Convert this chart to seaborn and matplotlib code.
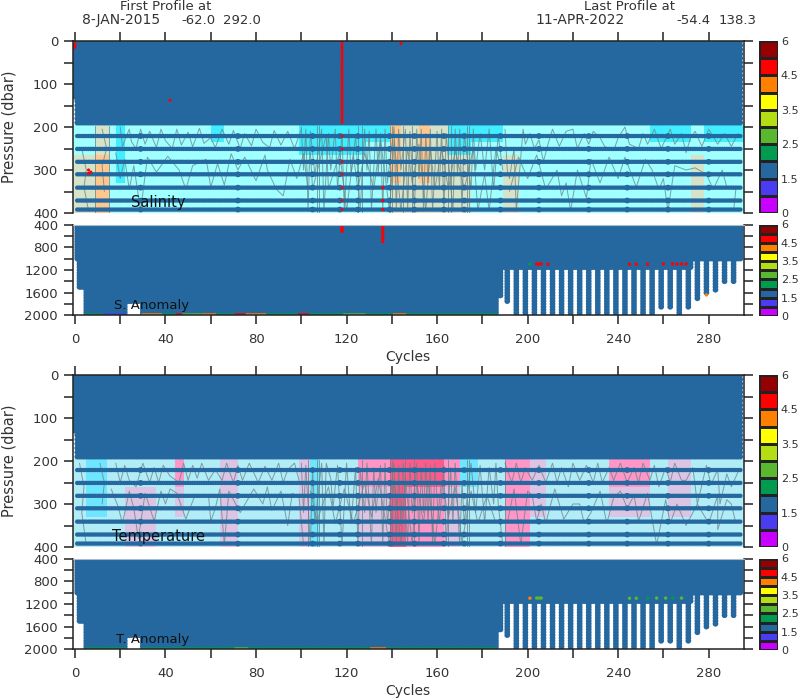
import numpy as np
import pandas as pd
import matplotlib
matplotlib.use('Agg')
import matplotlib.pyplot as plt
from matplotlib.colors import ListedColormap
import seaborn as sns

# qc colour key, bottom to top
flag_colors = ['#c800ff', '#4a3cf0', '#24689f', '#009a50', '#5ab830',
               '#b4de14', '#ffff00', '#ff8000', '#ff0000', '#960000']
key_labels = ['6', '4.5', '3.5', '2.5', '1.5', '0']
BLUE, GREEN, LIME, ORANGE, RED, VIOLET = 2, 3, 4, 7, 8, 1

# sampling levels
upper_levels = [0, 10, 20, 30, 40, 50, 60, 70, 80, 90, 100, 110, 120, 130,
                140, 150, 160, 170, 180, 190]
stripe_levels = [221, 251, 281, 310, 341, 371, 392]
lower_levels = [400, 450, 500, 550, 600, 650, 700, 750, 800, 850, 900, 950, 1000,
                1050, 1100, 1150, 1200, 1250, 1300, 1350, 1400, 1450, 1500, 1550,
                1600, 1650, 1700, 1750, 1800, 1850, 1900, 1950, 2000]
stripe_bumps = [29, 72, 105, 117, 125, 139, 150, 163, 172, 188, 205, 227, 244, 262, 280]
red_column = [0, 5, 10, 15, 20, 25, 30, 35, 40, 45, 50, 55, 60, 65, 70, 75, 80, 85, 90, 95, 100,
              105, 110, 115, 120, 125, 130, 135, 140, 145, 150, 155, 160, 165, 170, 175, 180,
              185, 190, 221, 251, 281, 310, 341, 371, 392]

# deepest level per cycle: (first cycle, last cycle, pressure)
depth_runs = [(1, 1, 1015), (2, 4, 1500), (5, 22, 2000), (23, 29, 1790), (30, 186, 2000),
              (187, 188, 1650), (189, 272, 1150), (273, 294, 1015)]
deep_cycles = [26, 121, 191, 195, 199, 203, 207, 211, 215, 219, 223, 227, 231, 235, 239,
               243, 247, 251, 255, 259, 263, 267, 271, 275, 279, 283, 287, 291]
deep_bottoms = [1630, 1640, 1790, 2000, 2000, 2000, 2000, 2000, 2000, 2000, 2000, 2000, 2000,
                2000, 2000, 2000, 2000, 2000, 2000, 1850, 1850, 2000, 1850, 1735, 1640,
                1550, 1445, 1445]

# background field classes on pressure rows
sal_rows = [195, 235, 265, 330, 400]
sal_colors = ['#a0ffff', '#40eeff', '#d5e3c8', '#ffc78e']
sal_edges = [-1, 9, 15, 18, 22, 60, 66, 99, 118, 128, 139, 144, 152, 157, 165, 175, 189, 196,
             232, 254, 272, 278, 296]
sal_band_1 = [0, 2, 0, 1, 0, 1, 0, 1, 1, 1, 3, 2, 3, 2, 1, 1, 0, 0, 0, 1, 0, 1]
sal_band_2 = [0, 2, 0, 1, 0, 0, 0, 1, 1, 0, 3, 2, 3, 2, 1, 0, 0, 0, 0, 0, 0, 0]
sal_band_3 = [2, 3, 0, 1, 0, 0, 0, 0, 0, 0, 3, 2, 3, 2, 2, 0, 2, 0, 0, 0, 2, 0]
sal_band_4 = [2, 3, 0, 0, 0, 0, 0, 0, 0, 0, 2, 2, 2, 2, 2, 0, 2, 0, 0, 0, 2, 0]

tem_rows = [195, 260, 330, 400]
tem_colors = ['#b2ecf6', '#6fe6ff', '#dcc4e4', '#ff96c8', '#ff5a8c']
tem_edges = [-1, 5, 14, 22, 36, 44, 48, 64, 72, 99, 104, 108, 125, 139, 146, 163, 170, 178,
             190, 201, 208, 236, 254, 262, 272, 296]
tem_band_1 = [0, 1, 0, 0, 0, 3, 0, 2, 0, 2, 1, 0, 3, 4, 4, 3, 1, 0, 3, 2, 0, 3, 0, 2, 0]
tem_band_2 = [0, 1, 0, 2, 0, 2, 0, 2, 0, 2, 1, 0, 2, 4, 3, 2, 0, 0, 3, 2, 0, 2, 0, 2, 0]
tem_band_3 = [0, 0, 0, 2, 0, 0, 0, 2, 0, 2, 1, 0, 2, 4, 3, 2, 0, 0, 3, 0, 0, 0, 0, 0, 0]

# contour traces, as (cycle, pressure)
sal_verticals = [9, 15, 107, 108, 125, 127, 139, 140, 145, 149, 165, 166, 173, 174]
tem_verticals = [103, 107, 108, 127, 139, 140, 146, 150, 165, 173, 174, 190]

sal_contours = [
    [(3, 250), (5, 300), (4, 340), (6, 395)], [(12, 205), (14, 250), (12, 290), (13, 350)],
    [(20, 200), (21, 245), (24, 205), (25, 235), (27, 250), (29, 205), (31, 240), (33, 210), (36, 248), (38, 205),
     (40, 232), (43, 250), (45, 205), (47, 242), (50, 212), (52, 246), (55, 203), (57, 238), (60, 225), (62, 248),
     (65, 205), (68, 240), (70, 208), (73, 250), (75, 215), (78, 244), (80, 205), (83, 236), (86, 248), (88, 208),
     (91, 242), (94, 210), (97, 250), (100, 205)],
    [(18, 260), (20, 320), (22, 275), (24, 345), (26, 290), (29, 395), (32, 270), (36, 305), (41, 268), (46, 300),
     (49, 345), (52, 290), (58, 275), (60, 340), (63, 285), (66, 335), (69, 262), (72, 300), (75, 270), (80, 325),
     (84, 265), (85, 300), (89, 345), (92, 360), (95, 275), (98, 320), (101, 262), (103, 345)],
    [(100, 200), (101, 300), (102, 205), (103, 395), (104, 210), (106, 310), (109, 205), (110, 395), (112, 215),
     (113, 300), (115, 205), (116, 345), (118, 215), (119, 395), (121, 205), (122, 310), (124, 220), (126, 395),
     (128, 205), (129, 300), (130, 210), (131, 395), (133, 205), (134, 310), (135, 215), (136, 395), (137, 205),
     (138, 330), (141, 200), (142, 395), (143, 205), (144, 300), (146, 205), (147, 395), (148, 210), (150, 395),
     (151, 205), (152, 320), (153, 205), (154, 395), (155, 215), (156, 330), (157, 205), (158, 395), (160, 210),
     (161, 345), (162, 205), (163, 395), (164, 215), (167, 395), (168, 205), (169, 310), (170, 205), (171, 395),
     (172, 215), (175, 345), (176, 205), (177, 300), (179, 215), (181, 300), (183, 205), (185, 345), (187, 220),
     (189, 300)],
    [(104, 260), (105, 345), (111, 220), (112, 345), (117, 260), (120, 395), (123, 265), (125, 345), (128, 260),
     (132, 345), (135, 230), (139, 395), (141, 230), (144, 395), (147, 250), (149, 330), (152, 240), (155, 395),
     (157, 250), (159, 345), (162, 250), (165, 345), (168, 255), (172, 345), (176, 250), (178, 395), (181, 310),
     (183, 395), (186, 250), (188, 290)],
    [(190, 205), (191, 300), (192, 320), (194, 250), (195, 395), (198, 205), (199, 240), (201, 215), (203, 250),
     (205, 230), (207, 280), (209, 240), (211, 205), (214, 245), (217, 210), (220, 205), (222, 250), (225, 215),
     (227, 240), (229, 210), (232, 225), (234, 245), (238, 255), (240, 225), (243, 200), (245, 240), (249, 250),
     (251, 215), (253, 240), (256, 205), (259, 250), (263, 205), (265, 240), (268, 215), (270, 260), (272, 225),
     (274, 210), (277, 245), (280, 205), (284, 240), (287, 215), (290, 245), (293, 215)],
    [(192, 350), (196, 270), (200, 320), (204, 265), (208, 345), (213, 300), (215, 360), (217, 330), (219, 395),
     (222, 300), (226, 365), (228, 275), (232, 330), (236, 270), (240, 320), (243, 270), (248, 340), (252, 275),
     (255, 300), (258, 345), (260, 320), (262, 395), (265, 290), (270, 300), (274, 295), (279, 310), (282, 345),
     (286, 300), (288, 340), (292, 345), (291, 395)],
]
tem_contours = [
    [(2, 205), (4, 260), (3, 320), (5, 395)], [(11, 205), (13, 250), (12, 300)],
    [(18, 205), (20, 250), (22, 210), (24, 245), (27, 260), (30, 205), (33, 250), (35, 215), (37, 250), (39, 210),
     (42, 235), (46, 250), (48, 205), (50, 245), (52, 210), (54, 240), (56, 205), (59, 245), (62, 220), (65, 245),
     (67, 205), (70, 250), (72, 210), (74, 245), (77, 205), (81, 250), (84, 212), (87, 245), (90, 205), (92, 250),
     (94, 220), (97, 205), (99, 245)],
    [(16, 265), (19, 305), (21, 345), (24, 270), (26, 310), (28, 380), (31, 275), (35, 340), (38, 270), (40, 300),
     (42, 265), (45, 275), (49, 335), (53, 280), (59, 280), (60, 340), (62, 310), (64, 265), (66, 395), (68, 270),
     (73, 320), (79, 265), (83, 300), (85, 260), (87, 315), (91, 270), (94, 350), (96, 275), (99, 285), (101, 395)],
    [(100, 205), (101, 320), (102, 210), (104, 395), (105, 215), (106, 345), (109, 205), (110, 395), (111, 205),
     (113, 240), (114, 310), (116, 210), (118, 395), (120, 205), (122, 345), (124, 215), (125, 395), (126, 220),
     (128, 320), (129, 205), (131, 395), (132, 215), (133, 320), (135, 210), (136, 395), (137, 205), (138, 345),
     (141, 205), (142, 395), (143, 210), (144, 350), (145, 205), (147, 395), (148, 205), (149, 320), (151, 205),
     (152, 395), (153, 215), (154, 320), (155, 205), (156, 345), (157, 210), (158, 395), (159, 205), (160, 290),
     (161, 345), (163, 210), (164, 395), (166, 215), (167, 345), (168, 205), (170, 395), (171, 250), (172, 345),
     (175, 205), (177, 320), (179, 210), (181, 345), (183, 215), (185, 300), (186, 205), (187, 300), (189, 395)],
    [(104, 270), (107, 340), (112, 260), (115, 345), (119, 265), (123, 345), (128, 250), (131, 330), (134, 240),
     (139, 395), (141, 240), (144, 395), (146, 240), (149, 395), (151, 250), (154, 345), (156, 245), (159, 395),
     (162, 245), (165, 330), (168, 260), (171, 390), (175, 270), (178, 345), (182, 280), (186, 345)],
    [(190, 205), (193, 250), (195, 205), (197, 250), (199, 215), (202, 245), (205, 210), (208, 250), (211, 205),
     (213, 250), (215, 215), (218, 260), (220, 205), (223, 245), (226, 210), (229, 250), (231, 205), (233, 250),
     (236, 215), (238, 245), (241, 205), (244, 250), (247, 215), (249, 250), (251, 205), (254, 245), (256, 210),
     (258, 260), (261, 215), (263, 250), (265, 205), (268, 245), (270, 245), (273, 215), (275, 300), (279, 210),
     (281, 255), (284, 220), (285, 300), (288, 230), (290, 260), (293, 225)],
    [(191, 345), (194, 265), (197, 395), (200, 270), (202, 280), (204, 340), (206, 300), (208, 345), (212, 265),
     (216, 335), (220, 300), (223, 300), (225, 345), (228, 320), (232, 270), (235, 345), (238, 285), (241, 270),
     (244, 310), (247, 280), (249, 340), (253, 275), (257, 395), (261, 290), (263, 345), (266, 300), (270, 350),
     (275, 300), (280, 345), (284, 280), (284, 360), (288, 290), (290, 300), (292, 345)],
]

# off-scale points (cycle, pressure, flag)
sal_marks = [(0, 0, RED), (0, 8, RED), (0, 15, RED), (42, 138, RED), (144, 6, RED),
             (6, 300, RED), (6, 308, RED), (7, 305, RED), (136, 341, RED), (136, 371, RED), (136, 392, RED)]
sal_lower_marks = [(118, 410, RED), (118, 440, RED), (118, 470, RED), (118, 500, RED), (118, 520, RED),
                   (136, 410, RED), (136, 450, RED), (136, 500, RED), (136, 550, RED), (136, 600, RED),
                   (136, 650, RED), (136, 700, RED), (201, 1100, GREEN), (204, 1097, RED), (205, 1097, RED),
                   (206, 1097, RED), (209, 1100, RED), (245, 1100, RED), (248, 1100, RED), (253, 1100, RED),
                   (260, 1095, RED), (264, 1095, RED), (266, 1095, RED), (268, 1095, RED), (270, 1095, RED),
                   (279, 1640, ORANGE)]
tem_marks = []
tem_lower_marks = [(201, 1100, ORANGE), (204, 1097, LIME), (205, 1097, LIME), (206, 1097, LIME), (245, 1100, LIME),
                   (248, 1100, LIME), (253, 1100, GREEN), (257, 1097, LIME), (261, 1097, LIME), (264, 1097, GREEN),
                   (268, 1097, LIME)]

# flags along the 2000 dbar floor: (first cycle, last cycle, flag)
sal_floor = [(5, 12, GREEN), (13, 22, VIOLET), (30, 38, ORANGE), (39, 44, GREEN), (45, 47, RED), (48, 56, LIME),
             (57, 62, ORANGE), (63, 70, GREEN), (71, 75, RED), (76, 84, ORANGE), (85, 98, GREEN), (99, 103, RED),
             (104, 118, GREEN), (119, 128, LIME), (129, 140, GREEN), (141, 146, ORANGE), (147, 170, GREEN), (171, 186, GREEN)]
tem_floor = [(5, 22, GREEN), (30, 70, GREEN), (71, 76, LIME), (77, 130, GREEN), (131, 137, ORANGE), (138, 186, GREEN)]

all_cycles = list(range(1, 295))


def box(left, top, right, bottom):
    # pixel edges of the 800x700 picture to figure fractions
    return [left / 800, 1 - bottom / 700, (right - left) / 800, (bottom - top) / 700]


def profile_bottom(cycle):
    if cycle in deep_cycles:
        return deep_bottoms[deep_cycles.index(cycle)]
    for first, last, bottom in depth_runs:
        if first <= cycle <= last:
            return bottom
    return 0


def points_frame(cycles, levels, flag=BLUE):
    return pd.DataFrame([(c, p, flag) for c in cycles for p in levels],
                        columns=['cycle', 'pressure', 'flag'])


def scatter(ax, frame, size):
    sns.scatterplot(data=frame, x='cycle', y='pressure', hue='flag', palette=dict(enumerate(flag_colors)),
                    s=size, linewidth=0, legend=False, ax=ax, zorder=4)


def contour_frame(lines, verticals):
    rows = [(i, c, p) for i, line in enumerate(lines) for c, p in line]
    for j, c in enumerate(verticals):
        rows += [(len(lines) + j, c, 197), (len(lines) + j, c, 400)]
    return pd.DataFrame(rows, columns=['line', 'cycle', 'pressure'])


def style_axis(ax):
    ax.set_xlim(-1.0, 295.6)
    ax.set_xlabel('')
    ax.set_ylabel('')
    ax.tick_params(direction='out', length=6.5, width=1.1, color='#222222', labelcolor='#333333',
                   labelsize=9.5, pad=4, right=True)
    for side in ax.spines:
        ax.spines[side].set_linewidth(1.1)
        ax.spines[side].set_color('#222222')
        ax.spines[side].set_zorder(6)


def draw_key(top, bottom):
    ax = fig.add_axes(box(759, top, 778, bottom))
    values = np.arange(len(flag_colors))[::-1].reshape(-1, 1)
    sns.heatmap(values, cmap=ListedColormap(flag_colors), cbar=False, linewidths=0.8,
                linecolor='#222222', xticklabels=False, ax=ax)
    ax.set_yticks([0, 2, 4, 6, 8, 10])
    ax.set_yticklabels(key_labels, rotation=0)
    ax.yaxis.tick_right()
    ax.tick_params(length=0, labelsize=8, labelcolor='#333333', pad=2)


def draw_group(dy, edges, rows, bands, colors, contours, verticals, marks, lower_marks, floor, name, anomaly):
    ax = fig.add_axes(box(72.7, 41 + dy, 744, 213 + dy))
    ax.pcolormesh(edges, rows, np.array(bands), cmap=ListedColormap(colors), vmin=-0.5, vmax=len(colors) - 0.5,
                  zorder=1)
    sns.lineplot(data=contour_frame(contours, verticals), x='cycle', y='pressure', units='line', estimator=None,
                 sort=False, color='#6a8282', linewidth=0.7, alpha=0.75, ax=ax, zorder=2)
    scatter(ax, points_frame([0], upper_levels[:14]), 15)
    scatter(ax, points_frame(all_cycles, upper_levels), 16)
    scatter(ax, points_frame(all_cycles, stripe_levels), 10)
    scatter(ax, points_frame(stripe_bumps, stripe_levels), 17)
    if marks:
        scatter(ax, pd.DataFrame(marks, columns=['cycle', 'pressure', 'flag']), 5)
        scatter(ax, points_frame([118], red_column, RED), 4)
    ax.set_ylim(400, 0)
    ax.set_yticks([0, 50, 100, 150, 200, 250, 300, 350, 400])
    ax.set_yticklabels(['0', '', '100', '', '200', '', '300', '', '400'])
    ax.set_xticks(np.arange(0, 295, 20))
    style_axis(ax)
    ax.tick_params(top=True, bottom=False, labelbottom=False)
    ax.spines['bottom'].set_visible(False)

    low = fig.add_axes(box(72.7, 224.5 + dy, 744, 315.3 + dy))
    columns = [points_frame([c], [p for p in lower_levels if p <= profile_bottom(c)]) for c in all_cycles]
    scatter(low, pd.concat(columns, ignore_index=True), 17)
    floor_rows = [(c, 1992, flag) for first, last, flag in floor for c in range(first, last + 1)]
    scatter(low, pd.DataFrame(floor_rows, columns=['cycle', 'pressure', 'flag']), 6)
    scatter(low, pd.DataFrame(lower_marks, columns=['cycle', 'pressure', 'flag']), 6)
    low.set_ylim(2000, 400)
    low.set_yticks([400, 600, 800, 1000, 1200, 1400, 1600, 1800, 2000])
    low.set_yticklabels(['400', '', '800', '', '1200', '', '1600', '', '2000'])
    low.set_xticks(np.arange(0, 295, 20))
    low.set_xticklabels([str(t) if t % 40 == 0 else '' for t in range(0, 295, 20)])
    style_axis(low)
    low.tick_params(axis='x', pad=6)
    low.spines['top'].set_color('#a8bccb')
    low.spines['top'].set_linewidth(0.8)

    text(9, 127 + dy, 'Pressure (dbar)', 10.5, rotation=90)
    text(408, 357 + dy, 'Cycles', 10)
    fig.text(name[1] / 800, 1 - (name[2] + dy) / 700, name[0], fontsize=10.5, color='#111111', ha='center',
             va='center', zorder=10)
    fig.text(anomaly[1] / 800, 1 - (anomaly[2] + dy) / 700, anomaly[0], fontsize=9.5, color='#111111', ha='center',
             va='center', zorder=10)
    draw_key(41 + dy, 213 + dy)
    draw_key(224.5 + dy, 316 + dy)


def text(x, y, label, size, rotation=0):
    fig.text(x / 800, 1 - y / 700, label, fontsize=size, color='#333333', ha='center', va='center', rotation=rotation)


sns.set_style('ticks')
fig = plt.figure(figsize=(8, 7), dpi=100)

draw_group(0, sal_edges, sal_rows, [sal_band_1, sal_band_2, sal_band_3, sal_band_4], sal_colors, sal_contours,
           sal_verticals, sal_marks, sal_lower_marks, sal_floor, ('Salinity', 158, 202), ('S. Anomaly', 152, 305))
draw_group(334, tem_edges, tem_rows, [tem_band_1, tem_band_2, tem_band_3], tem_colors, tem_contours,
           tem_verticals, tem_marks, tem_lower_marks, tem_floor, ('Temperature', 159, 203), ('T. Anomaly', 153, 306))

text(166, 7, 'First Profile at', 9.5)
text(121, 20, '8-JAN-2015', 10)
text(198, 20, '-62.0', 9.5)
text(242, 20, '292.0', 9.5)
text(630, 7, 'Last Profile at', 9.5)
text(580, 20, '11-APR-2022', 10)
text(693, 20, '-54.4', 9.5)
text(738, 20, '138.3', 9.5)

fig.savefig('out.png', dpi=100)
